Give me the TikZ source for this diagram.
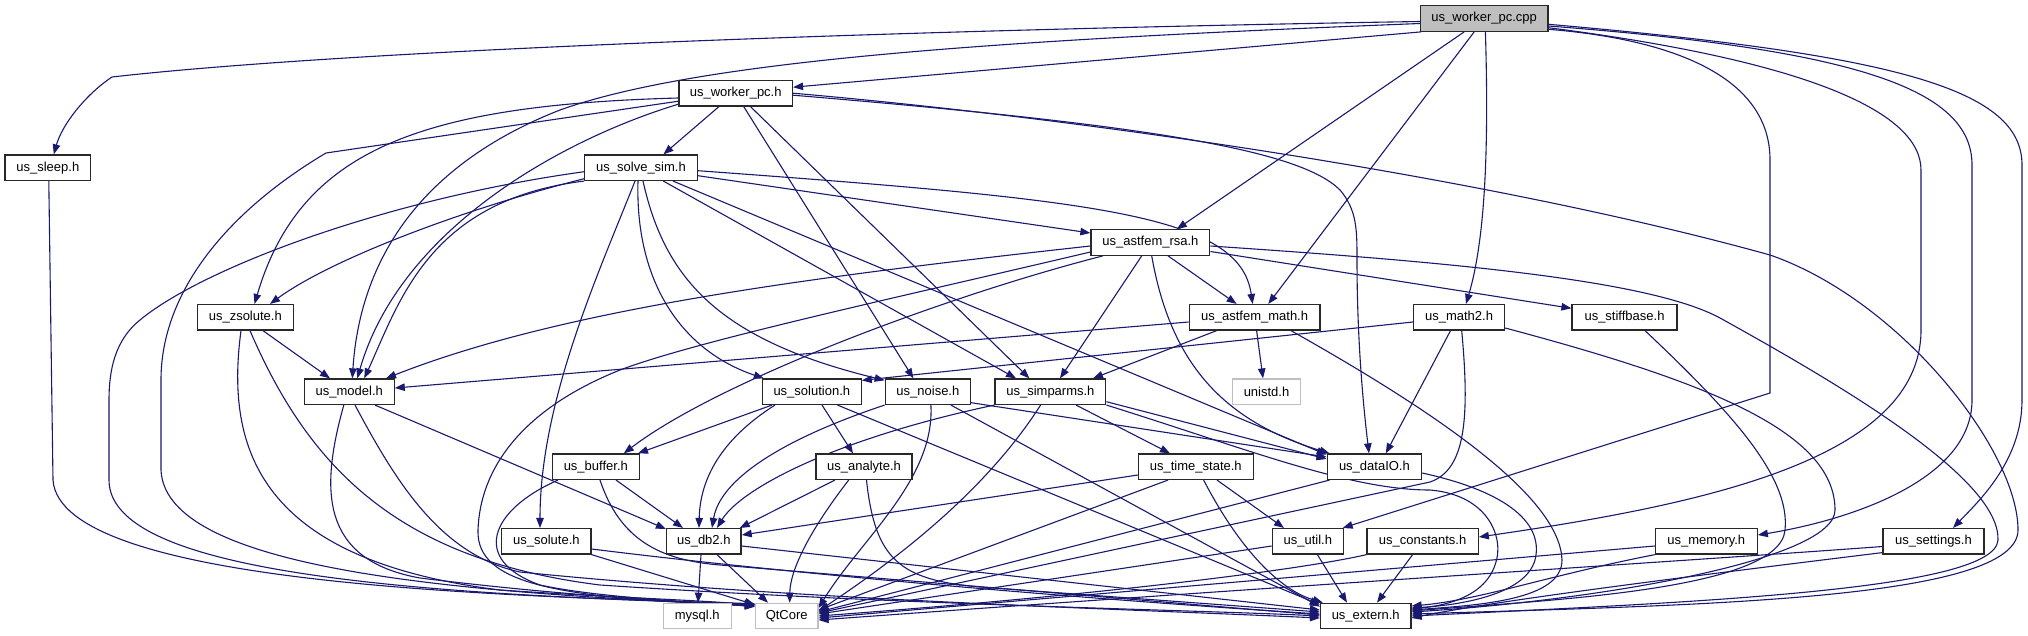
\documentclass[tikz,border=0pt]{standalone}
\usepackage{fontspec}
\setmainfont{Liberation Sans}
\usetikzlibrary{arrows.meta,calc,backgrounds}
\definecolor{edgec}{RGB}{25,25,112}
\definecolor{bord}{RGB}{40,40,40}
\definecolor{lgray}{RGB}{191,191,191}
\tikzset{
 nd/.style={draw=bord, line width=1.3pt, fill=white, minimum height=25.4pt, inner sep=0pt, font=\fontsize{13}{15}\selectfont},
 gnd/.style={nd, draw=lgray, line width=1.2pt},
 cnd/.style={nd, fill=lgray},
 e/.style={draw=edgec, line width=1.1pt, -{Triangle[length=10pt,width=7.5pt]}},
}
\begin{document}
\begin{tikzpicture}[x=1pt,y=-1pt]
\useasboundingbox (0,0) rectangle (2028,635);
% nodes
\node[cnd, minimum width=127.3pt] (C) at (1484.2,18.5) {us\_worker\_pc.cpp};
\node[nd, minimum width=113.4pt] (WH) at (735.7,93.2) {us\_worker\_pc.h};
\node[nd, minimum width=85.7pt] (sleep) at (47.8,167.7) {us\_sleep.h};
\node[nd, minimum width=112.5pt] (S) at (641,167.7) {us\_solve\_sim.h};
\node[nd, minimum width=118.8pt] (rsa) at (1150.4,242.5) {us\_astfem\_rsa.h};
\node[nd, minimum width=96pt] (zs) at (245.3,317.3) {us\_zsolute.h};
\node[nd, minimum width=130.7pt] (am) at (1254.6,317.3) {us\_astfem\_math.h};
\node[nd, minimum width=91.1pt] (m2) at (1459,317.3) {us\_math2.h};
\node[nd, minimum width=104.9pt] (stf) at (1624.5,317.3) {us\_stiffbase.h};
\node[nd, minimum width=89.7pt] (model) at (349.3,391.7) {us\_model.h};
\node[nd, minimum width=98.7pt] (sol) at (811.8,391.7) {us\_solution.h};
\node[nd, minimum width=85.2pt] (noise) at (927.9,391.7) {us\_noise.h};
\node[nd, minimum width=110.8pt] (simp) at (1050.4,391.7) {us\_simparms.h};
\node[gnd, minimum width=67.8pt] (unistd) at (1266.5,391.7) {unistd.h};
\node[nd, minimum width=87.1pt] (buffer) at (595.8,466.7) {us\_buffer.h};
\node[nd, minimum width=96pt] (analyte) at (864,466.7) {us\_analyte.h};
\node[nd, minimum width=114.7pt] (ts) at (1195.8,466.7) {us\_time\_state.h};
\node[nd, minimum width=94.3pt] (dataio) at (1374.4,466.7) {us\_dataIO.h};
\node[nd, minimum width=89.2pt] (solute) at (546.4,541.3) {us\_solute.h};
\node[nd, minimum width=74.6pt] (db2) at (703.8,541.3) {us\_db2.h};
\node[nd, minimum width=71pt] (util) at (1307.8,541.3) {us\_util.h};
\node[nd, minimum width=111.2pt] (const) at (1422.6,541.3) {us\_constants.h};
\node[nd, minimum width=101.8pt] (memory) at (1706.3,541.3) {us\_memory.h};
\node[nd, minimum width=101pt] (settings) at (1933.5,541.3) {us\_settings.h};
\node[gnd, minimum width=67.9pt] (mysql) at (697.3,616) {mysql.h};
\node[gnd, minimum width=62.5pt] (qt) at (786.7,616) {QtCore};
\node[nd, minimum width=90.3pt] (ext) at (1365.7,616) {us\_extern.h};
\begin{pgfonlayer}{background}
\fill[white] (0,0) rectangle (2028,635);
% from cpp
\draw[e] ([xshift=1.4pt]C.south west) -- ([yshift=6pt]WH.east);
\draw[e] ([yshift=-3pt]C.west) .. controls (900,30) and (350,50) .. (112,77) .. controls (85,95) and (62,125) .. ([xshift=6pt]sleep.north);
\draw[e] ([yshift=-5pt]C.west) .. controls (1000,40) and (700,60) .. (560,110) .. controls (420,165) and (360,260) .. ([xshift=3pt]model.north);
\draw[e] ([xshift=-20pt]C.south) -- ([xshift=26.4pt]rsa.north);
\draw[e] ([xshift=-10pt]C.south) -- ([xshift=13.7pt]am.north);
\draw[e] ([xshift=1.2pt]C.south) .. controls (1489,150) and (1485,240) .. ([xshift=7pt]m2.north);
\draw[e] ([yshift=-10.8pt]C.east) .. controls (1680,40) and (1770,80) .. (1770,160) -- (1770,393) -- ([xshift=-1.3pt]util.north east);
\draw[e] ([yshift=-9.2pt]C.east) .. controls (1800,60) and (1921,110) .. (1921,170) -- (1921,330) .. controls (1921,460) and (1700,505) .. ([yshift=4.3pt]const.east);
\draw[e] ([yshift=-7.5pt]C.east) .. controls (1860,50) and (1972,90) .. (1972,165) -- (1972,400) .. controls (1972,480) and (1850,520) .. ([yshift=6.3pt]memory.east);
\draw[e] ([yshift=-5.8pt]C.east) .. controls (1900,55) and (2022,90) .. (2022,165) -- (2022,400) .. controls (2022,460) and (1980,500) .. ([xshift=19.5pt]settings.north);
% from worker_pc.h
\draw[e] ([xshift=-16.7pt]WH.south) -- ([xshift=22.4pt]S.north);
\draw[e] ([yshift=-4.8pt]WH.west) .. controls (420,105) and (300,150) .. ([xshift=9.2pt]zs.north);
\draw[e] ([yshift=-8pt]WH.west) -- (326,153) .. controls (230,210) and (161,290) .. (161,380) -- (161,470) .. controls (165,560) and (400,592) .. ([yshift=-2pt]qt.north west);
\draw[e] ([yshift=-11pt]WH.west) .. controls (560,140) and (400,230) .. ([xshift=8pt]model.north);
\draw[e] ([xshift=8pt]WH.south) -- ([xshift=-14.5pt]noise.north);
\draw[e] ([xshift=14.7pt]WH.south) -- ([xshift=-21pt]simp.north);
\draw[e] ([yshift=-2pt]WH.east) .. controls (1150,125) and (1300,150) .. (1340,190) .. controls (1357,210) and (1357,230) .. (1357,260) .. controls (1357,350) and (1365,420) .. ([xshift=-5.4pt]dataio.north);
\draw[e] (WH.east) .. controls (1100,120) and (1500,180) .. (1770,255) .. controls (1900,300) and (2018,450) .. (2018,530) .. controls (2018,600) and (1700,605) .. ([yshift=2pt]ext.east);
% sleep
\draw[e] ([xshift=1pt]sleep.south) -- (53,480) .. controls (60,585) and (500,596) .. ([yshift=-1pt]qt.north west);
% solve_sim
\draw[e] ([yshift=-11pt]S.west) .. controls (460,210) and (330,260) .. ([xshift=24.7pt]zs.north);
\draw[e] ([yshift=-4pt]S.west) .. controls (380,200) and (200,270) .. (140,320) .. controls (115,340) and (109,370) .. (109,400) -- (109,480) .. controls (109,572) and (400,594) .. ([yshift=-1.5pt]qt.north west);
\draw[e] (S.south west) .. controls (430,200) and (400,300) .. ([xshift=15pt]model.north);
\draw[e] ([xshift=-3pt]S.south) .. controls (635,280) and (680,350) .. ([xshift=2pt]sol.north west);
\draw[e] ([xshift=2pt]S.south) .. controls (665,280) and (720,340) .. ([yshift=-2pt]noise.north west);
\draw[e] ([xshift=-6pt]S.south) .. controls (600,270) and (540,400) .. ([xshift=-6.4pt]solute.north);
\draw[e] ([yshift=-8pt]S.east) -- ([yshift=9.5pt]rsa.west);
\draw[e] ([yshift=-3pt]S.east) .. controls (1100,200) and (1240,215) .. ([xshift=-2pt]am.north);
\draw[e] ([xshift=22.3pt]S.south) -- ([xshift=-34.4pt]simp.north);
\draw[e] ([xshift=32pt]S.south) -- ([yshift=12pt]dataio.west);
% astfem_rsa
\draw[e] ([yshift=-3.5pt]rsa.west) .. controls (800,278) and (560,310) .. ([xshift=36.7pt]model.north);
\draw[e] ([xshift=-47.4pt]rsa.south) .. controls (950,295) and (720,380) .. ([xshift=28pt]buffer.north);
\draw[e] ([yshift=-9.5pt]rsa.west) .. controls (900,297) and (700,340) .. (620,370) .. controls (520,410) and (480,470) .. (478,530) .. controls (476,585) and (560,598) .. ([yshift=-3pt]qt.north west);
\draw[e] ([xshift=-8.7pt]rsa.south) -- ([xshift=9.6pt]simp.north);
\draw[e] ([xshift=17.6pt]rsa.south) -- ([xshift=-18pt]am.north);
\draw[e] ([xshift=1.3pt]rsa.south) .. controls (1170,360) and (1220,420) .. ([xshift=3pt]dataio.north west);
\draw[e] ([yshift=-9pt]rsa.east) -- ([yshift=9pt]stf.west);
\draw[e] ([yshift=-3.5pt]rsa.east) .. controls (1450,262) and (1650,280) .. (1720,318) .. controls (1850,390) and (2000,480) .. (1998,540) .. controls (1995,590) and (1700,602) .. (ext.east);
% astfem_math
\draw[e] ([yshift=-4.7pt]am.west) -- ([yshift=3.7pt]model.east);
\draw[e] ([xshift=-38pt]am.south) -- ([xshift=42.6pt]simp.north);
\draw[e] ([xshift=2pt]am.south) -- ([xshift=-3.5pt]unistd.north);
\draw[e] ([xshift=36.4pt]am.south) .. controls (1450,420) and (1560,500) .. (1562,560) .. controls (1562,600) and (1480,605) .. ([yshift=6pt]ext.east);
% math2
\draw[e] ([yshift=-4.7pt]m2.west) -- ([yshift=-2pt]sol.north east);
\draw[e] ([xshift=-8.5pt]m2.south) -- ([xshift=11.4pt]dataio.north);
\draw[e] ([xshift=2.7pt]m2.south) .. controls (1470,420) and (1465,470) .. (1430,482) -- ([yshift=3pt]qt.east);
\draw[e] ([yshift=-10.7pt]m2.east) .. controls (1700,380) and (1835,430) .. (1835,510) .. controls (1835,560) and (1600,600) .. ([yshift=4pt]ext.east);
% stiffbase
\draw[e] ([xshift=20.5pt]stf.south) .. controls (1740,420) and (1790,480) .. (1785,530) .. controls (1780,590) and (1550,600) .. ([yshift=5pt]ext.east);
% zsolute
\draw[e] ([xshift=17.7pt]zs.south) -- ([xshift=-19.3pt]model.north);
\draw[e] ([xshift=-4.3pt]zs.south) .. controls (225,450) and (260,560) .. (500,590) .. controls (620,598) and (700,600) .. ([yshift=-2.5pt]qt.north west);
\draw[e] ([xshift=4.7pt]zs.south) .. controls (310,470) and (400,560) .. (600,585) .. controls (900,605) and (1200,610) .. (ext.west);
% model
\draw[e] ([xshift=-5.5pt]model.south) .. controls (320,490) and (320,560) .. (420,578) .. controls (550,594) and (650,600) .. ([yshift=-3.5pt]qt.north west);
\draw[e] ([xshift=5.7pt]model.south) .. controls (395,480) and (440,555) .. (520,572) .. controls (800,600) and (1100,608) .. ([yshift=-2pt]ext.west);
\draw[e] ([xshift=25.7pt]model.south) -- ([yshift=-1pt]db2.north west);
% solution
\draw[e] ([xshift=-39.8pt]sol.south) -- ([xshift=-2pt]buffer.north east);
\draw[e] ([xshift=-36.8pt]sol.south) .. controls (720,440) and (700,480) .. ([xshift=-4.8pt]db2.north);
\draw[e] ([xshift=10.2pt]sol.south) -- ([xshift=-11pt]analyte.north);
\draw[e] ([xshift=25.7pt]sol.south) -- ([yshift=-2pt]ext.north west);
% noise
\draw[e] (noise.south west) .. controls (780,440) and (720,480) .. ([xshift=8.2pt]db2.north);
\draw[e] ([xshift=3pt]noise.south) .. controls (935,480) and (860,540) .. ([yshift=8pt]qt.east);
\draw[e] ([xshift=23pt]noise.south) -- ([yshift=-4pt]ext.north west);
\draw[e] ([yshift=-11pt]noise.east) -- ([yshift=9.7pt]dataio.west);
% simparms
\draw[e] ([xshift=25.6pt]simp.south) -- ([xshift=-25.8pt]ts.north);
\draw[e] ([yshift=-10pt]simp.east) -- ([yshift=7.7pt]dataio.west);
\draw[e] (simp.south west) .. controls (830,440) and (740,490) .. ([xshift=13.2pt]db2.north);
\draw[e] ([xshift=-9.8pt]simp.south) .. controls (980,500) and (880,570) .. ([yshift=5pt]qt.east);
\draw[e] (simp.south east) .. controls (1250,450) and (1350,490) .. (1430,490) .. controls (1490,495) and (1505,540) .. (1495,565) .. controls (1485,595) and (1450,605) .. ([yshift=7pt]ext.east);
% analyte
\draw[e] ([xshift=-29pt]analyte.south) -- ([xshift=-2pt]db2.north east);
\draw[e] ([xshift=-15.3pt]analyte.south) .. controls (810,530) and (790,570) .. ([xshift=3pt]qt.north);
\draw[e] ([xshift=2.5pt]analyte.south) .. controls (875,560) and (900,580) .. (980,587) -- ([yshift=4pt]ext.west);
% time_state
\draw[e] ([yshift=-8.3pt]ts.west) -- ([yshift=6.3pt]db2.east);
\draw[e] ([xshift=-27.8pt]ts.south) -- ([yshift=6pt]qt.east);
\draw[e] ([xshift=21.2pt]ts.south) -- ([xshift=-23.8pt]util.north);
\draw[e] ([xshift=7.8pt]ts.south) .. controls (1240,550) and (1280,590) .. ([xshift=3pt]ext.north west);
% dataIO
\draw[e] ([xshift=3pt]dataio.south west) -- ([yshift=4pt]qt.east);
\draw[e] ([yshift=-6.3pt]dataio.east) .. controls (1500,490) and (1545,520) .. (1535,560) .. controls (1525,595) and (1460,605) .. ([yshift=8pt]ext.east);
% buffer
\draw[e] ([xshift=20.2pt]buffer.south) -- ([xshift=-20.8pt]db2.north);
\draw[e] ([xshift=-37.8pt]buffer.south) .. controls (490,510) and (470,560) .. (540,585) .. controls (600,598) and (700,602) .. ([yshift=-4pt]qt.north west);
\draw[e] ([xshift=4.2pt]buffer.south) .. controls (620,540) and (660,560) .. (720,565) -- ([yshift=1pt]ext.west);
% solute
\draw[e] (solute.south east) -- ([yshift=-2pt]qt.north west);
\draw[e] ([yshift=-7.7pt]solute.east) .. controls (800,575) and (1100,600) .. ([yshift=2pt]ext.west);
% db2
\draw[e] ([xshift=-2.8pt]db2.south) -- ([xshift=0.7pt]mysql.north);
\draw[e] ([xshift=13.2pt]db2.south) -- ([xshift=-18.7pt]qt.north);
\draw[e] ([yshift=-4.7pt]db2.east) -- ([yshift=6pt]ext.west);
% util
\draw[e] ([yshift=-4.7pt]util.west) -- ([yshift=2pt]qt.east);
\draw[e] ([xshift=9.6pt]util.south) -- ([xshift=-18.7pt]ext.north);
% constants
\draw[e] (const.south west) .. controls (1300,570) and (1100,595) .. (qt.east);
\draw[e] ([xshift=-10pt]const.south) -- ([xshift=11.3pt]ext.north);
% memory
\draw[e] ([yshift=-4.7pt]memory.west) -- ([yshift=-2pt]qt.east);
\draw[e] (memory.south west) .. controls (1550,575) and (1480,600) .. ([yshift=10pt]ext.east);
% settings
\draw[e] ([yshift=-5.2pt]settings.west) .. controls (1700,560) and (1300,585) .. ([yshift=-4pt]qt.east);
\draw[e] ([yshift=-11.3pt]settings.west) .. controls (1700,575) and (1500,600) .. ([yshift=-2pt]ext.east);
\end{pgfonlayer}
\end{tikzpicture}
\end{document}
